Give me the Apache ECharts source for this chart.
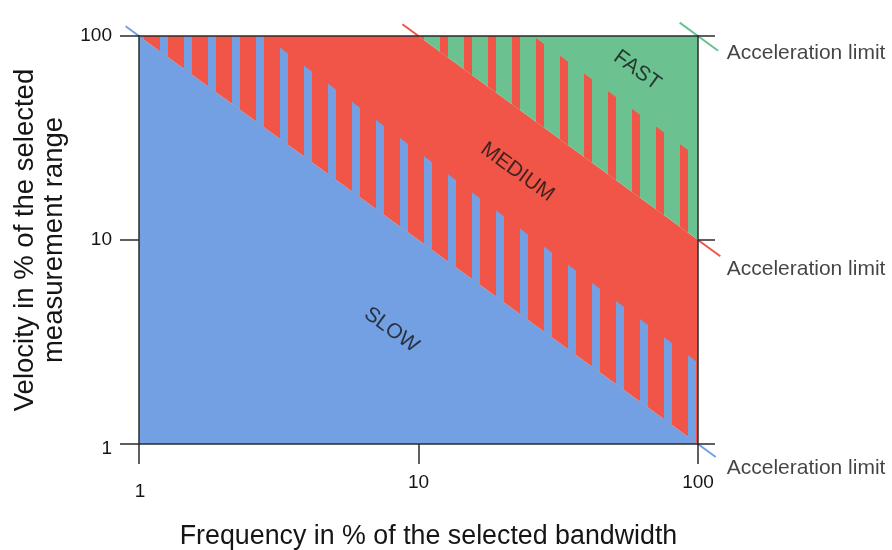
<!DOCTYPE html>
<html><head><meta charset="utf-8">
<script src="https://cdn.jsdelivr.net/npm/echarts@6/dist/echarts.min.js"></script>
<style>html,body{margin:0;padding:0;background:#fff}#c{width:892px;height:550px}</style>
</head><body><div id="c"></div>
<script>
const FONT = '"Liberation Sans", Arial, Helvetica, sans-serif';
// axes
const frequencyTicks = [1, 10, 100];
const velocityTicks = [1, 10, 100];
const xTitle = 'Frequency in % of the selected bandwidth';
const yTitle = 'Velocity in % of the selected\nmeasurement range';
// regions, vertices as [frequency %, velocity %]
const regionNames = ['SLOW', 'MEDIUM', 'FAST'];
const slowRegion = [[1, 1], [1, 100], [100, 1]];
const mediumRegion = [[1, 100], [10, 100], [100, 10], [100, 1]];
const fastRegion = [[10, 100], [100, 100], [100, 10]];
// hatched transition bands above each acceleration limit
const slowMediumBand = [[1, 100], [100, 1], [100, 2.5], [1, 292]];
const mediumFastBand = [[10, 100], [100, 10], [100, 25.4], [10, 259]];
// acceleration-limit line stubs drawn outside the plot: [f1, v1, f2, v2, colourIndex]
const slowLimitStubs = [[0.896, 111.6, 1, 100, 0], [100, 1, 115.7, 0.864, 0]];
const mediumLimitStubs = [[8.76, 114.2, 10, 100, 1], [100, 10, 120.2, 8.32, 1]];
const fastLimitStubs = [[86, 116.3, 118, 84.7, 2]];
// label anchors
const regionLabelPos = [[8.0, 3.62], [22.6, 21.5], [60.6, 67.9]];
const accelLabel = 'Acceleration limit';
const accelLabelPos = [[126.7, 82.7], [126.7, 7.22], [126.7, 0.765]];

const COLORS = ['#72A0E2', '#F05547', '#6BC290'];
const AXIS = '#2b2b2b';
const TEXT = '#151515';

function stripePattern(color, start) {
  const c = document.createElement('canvas');
  c.width = 24; c.height = 24;
  const ctx = c.getContext('2d');
  ctx.fillStyle = color;
  ctx.fillRect(start, 0, 8, 24);
  return { image: c, repeat: 'repeat' };
}

const polys = [slowRegion, mediumRegion, fastRegion, slowMediumBand, mediumFastBand];
const fills = [COLORS[0], COLORS[1], COLORS[2], stripePattern(COLORS[0], 16), stripePattern(COLORS[1], 8)];

const chart = echarts.init(document.getElementById('c'), null, { renderer: 'canvas' });
const lineStyle = { color: AXIS, width: 1.5 };
chart.setOption({
  animation: false,
  textStyle: { fontFamily: FONT },
  grid: { left: 139, top: 36, width: 559, height: 408, containLabel: false, outerBoundsMode: 'none' },
  xAxis: [{
    type: 'log', logBase: 10, min: 1, max: 100, position: 'bottom', z: 10,
    axisLine: { show: true, onZero: false, lineStyle },
    axisTick: { show: true, length: 20, lineStyle },
    minorTick: { show: false }, splitLine: { show: false },
    axisLabel: {
      fontSize: 19, color: TEXT, margin: 29, fontFamily: FONT,
      formatter: v => (v === frequencyTicks[0] ? '{low|' + v + '}' : String(v)),
      rich: { low: { fontSize: 19, color: TEXT, fontFamily: FONT, padding: [9, 0, 0, 2] } }
    },
    name: xTitle, nameLocation: 'middle', nameGap: 79,
    nameTextStyle: { fontSize: 26.8, color: TEXT, fontFamily: FONT, padding: [0, 0, 0, 20] }
  }, {
    type: 'log', logBase: 10, min: 1, max: 100, position: 'top', z: 10,
    axisLine: { show: true, onZero: false, lineStyle },
    axisTick: { show: false }, axisLabel: { show: false }, splitLine: { show: false }
  }],
  yAxis: [{
    type: 'log', logBase: 10, min: 1, max: 100, position: 'left', z: 10,
    axisLine: { show: true, onZero: false, lineStyle },
    axisTick: { show: true, length: 19, lineStyle },
    minorTick: { show: false }, splitLine: { show: false },
    axisLabel: {
      fontSize: 19, color: TEXT, margin: 27, fontFamily: FONT,
      formatter: v => (v === velocityTicks[0] ? '{low|' + v + '}' : String(v)),
      rich: { low: { fontSize: 19, color: TEXT, fontFamily: FONT, padding: [10, 0, 0, 0] } }
    },
    name: yTitle, nameLocation: 'middle', nameGap: 60, nameRotate: 90,
    nameTextStyle: { fontSize: 27.5, lineHeight: 29, color: TEXT, fontFamily: FONT, align: 'center' }
  }, {
    type: 'log', logBase: 10, min: 1, max: 100, position: 'right', z: 10,
    axisLine: { show: true, onZero: false, lineStyle },
    axisTick: { show: true, length: 17, lineStyle },
    axisLabel: { show: false }, splitLine: { show: false }
  }],
  series: [{
    type: 'custom', clip: true, silent: true, z: 1,
    data: polys.map((p, i) => [p[0][0], p[0][1], i]),
    renderItem: (params, api) => ({
      type: 'polygon',
      shape: { points: polys[params.dataIndex].map(p => api.coord(p)) },
      style: { fill: fills[params.dataIndex] }
    })
  }, {
    type: 'custom', clip: false, silent: true, z: 3,
    data: slowLimitStubs.concat(mediumLimitStubs, fastLimitStubs),
    renderItem: (params, api) => {
      const a = api.coord([api.value(0), api.value(1)]);
      const b = api.coord([api.value(2), api.value(3)]);
      return { type: 'line', shape: { x1: a[0], y1: a[1], x2: b[0], y2: b[1] },
        style: { stroke: COLORS[api.value(4)], lineWidth: 2 } };
    }
  }, {
    type: 'scatter', symbolSize: 0, silent: true, z: 5,
    data: regionNames.map((n, i) => ({ name: n, value: regionLabelPos[i] })),
    label: { show: true, position: 'inside', formatter: '{b}', rotate: -36,
      fontSize: 21, color: TEXT, fontFamily: FONT }
  }, {
    type: 'scatter', symbolSize: 0, silent: true, clip: false, z: 5,
    data: accelLabelPos.map(p => ({ name: accelLabel, value: p })),
    label: { show: true, position: 'right', distance: 0, formatter: '{b}',
      fontSize: 21, color: TEXT, fontFamily: FONT }
  }]
});
</script></body></html>
